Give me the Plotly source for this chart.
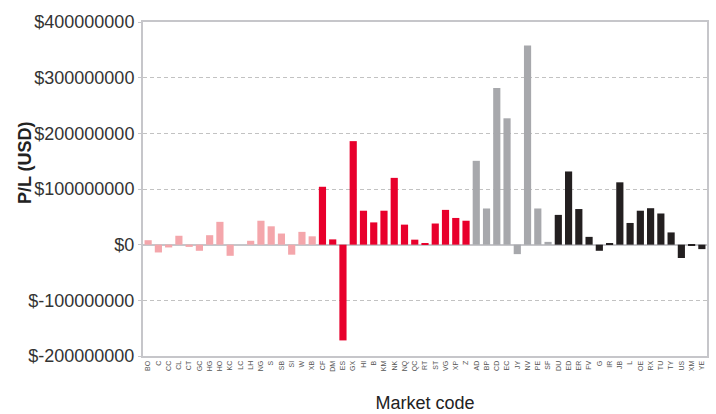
import plotly.graph_objects as go

codes_pink = ["BO", "C", "CC", "CL", "CT", "GC", "HG", "HO", "KC", "LC", "LH", "NG", "S", "SB", "SI", "W", "XB"]
vals_pink = [8e6, -14e6, -5e6, 16e6, -4e6, -11e6, 17e6, 41e6, -20e6, 0, 7e6, 43e6, 33e6, 20e6, -18e6, 23e6, 15e6]

codes_red = ["CF", "DM", "ES", "GX", "HI", "B", "KM", "NK", "NQ", "QC", "RT", "ST", "VG", "XP", "Z"]
vals_red = [104e6, 9.5e6, -172e6, 186e6, 61e6, 40e6, 61e6, 120e6, 36e6, 9e6, 2e6, 38e6, 62.5e6, 48e6, 43e6]

codes_gray = ["AD", "BP", "CD", "EC", "JY", "NV", "PE", "SF"]
vals_gray = [150.6e6, 65e6, 281.5e6, 227e6, -17e6, 358e6, 65e6, 5e6]

codes_black = ["DU", "ED", "ER", "FV", "G", "IR", "JB", "L", "OE", "RX", "TU", "TY", "US", "XM", "YE"]
vals_black = [53.5e6, 131.5e6, 64e6, 14e6, -11e6, 3e6, 112e6, 39e6, 61e6, 65.5e6, 56e6, 22e6, -24e6, -2e6, -8e6]

y_tickvals = [-200e6, -100e6, 0, 100e6, 200e6, 300e6, 400e6]
y_ticktext = ["$-200000000", "$-100000000", "$0", "$100000000", "$200000000", "$300000000", "$400000000"]

all_codes = codes_pink + codes_red + codes_gray + codes_black

groups = [
    (codes_pink, vals_pink, "#F4A6AB"),
    (codes_red, vals_red, "#E8002C"),
    (codes_gray, vals_gray, "#A7A8AC"),
    (codes_black, vals_black, "#231F20"),
]

fig = go.Figure()
for codes, vals, col in groups:
    fig.add_trace(go.Bar(x=codes, y=vals, marker=dict(color=col, line=dict(width=0)),
                         showlegend=False))

font_main = "Liberation Sans, Arial, sans-serif"

fig.update_layout(
    width=716, height=414,
    margin=dict(l=143, r=9, t=22, b=58),
    paper_bgcolor="white", plot_bgcolor="white",
    bargap=0.3,
    font=dict(family=font_main, color="#222"),
    xaxis=dict(
        categoryorder="array", categoryarray=all_codes,
        tickmode="linear", dtick=1, automargin=False,
        tickangle=-90, tickfont=dict(size=7, color="#555"),
        showline=True, linecolor="#C6C6CA", linewidth=2, mirror=True,
        showgrid=False, ticks="",
        title=dict(text="Market code", font=dict(size=18, color="#222"), standoff=26),
    ),
    yaxis=dict(
        range=[-200e6, 400e6], automargin=False,
        tickvals=y_tickvals, ticktext=y_ticktext,
        tickfont=dict(size=18, color="#333"),
        showline=True, linecolor="#C6C6CA", linewidth=2, mirror=True,
        ticks="outside", ticklen=3, tickcolor="#C6C6CA",
        showgrid=True, gridcolor="#C2C2C2", griddash="4px,3px", gridwidth=1,
        zeroline=True, zerolinecolor="#C6C6CA", zerolinewidth=2,
    ),
    annotations=[dict(
        text="<b>P/L (USD)</b>", textangle=-90, showarrow=False,
        xref="paper", yref="paper", x=-0.209, y=0.578,
        xanchor="center", yanchor="middle",
        font=dict(size=18, color="#222"),
    )],
)

fig.write_html("out.html", config={"displayModeBar": False},
               post_script="document.body.style.margin='0';")
